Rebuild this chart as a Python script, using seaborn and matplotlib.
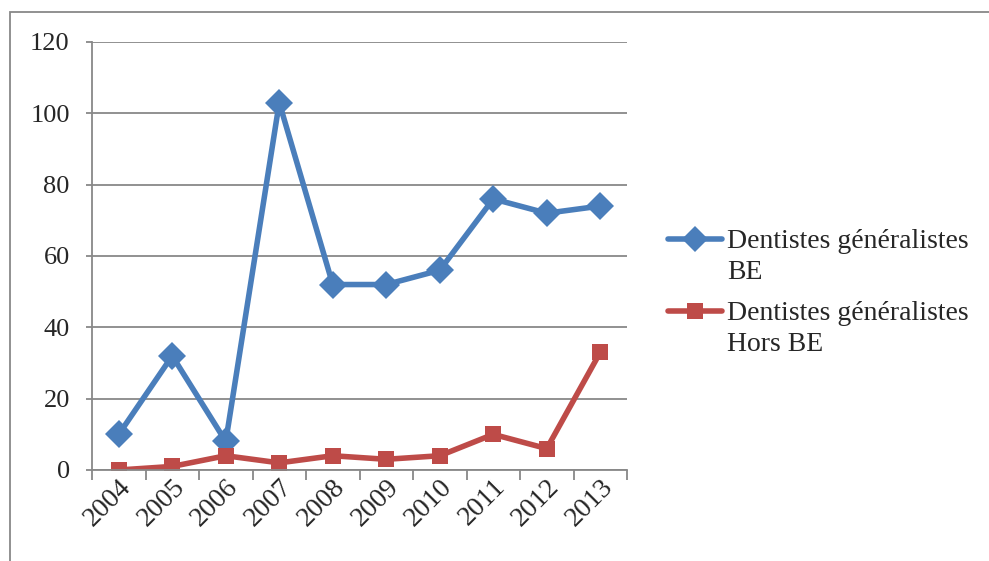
import numpy as np
import pandas as pd
import matplotlib
matplotlib.use("Agg")
import matplotlib.pyplot as plt
import seaborn as sns
from matplotlib.patches import Rectangle
from matplotlib.ticker import FixedLocator

years = ["2004", "2005", "2006", "2007", "2008", "2009", "2010", "2011", "2012", "2013"]
be = [10, 32, 8, 103, 52, 52, 56, 76, 72, 74]
hors_be = [0, 1, 4, 2, 4, 3, 4, 10, 6, 33]
series = ["Dentistes généralistes\nBE", "Dentistes généralistes\nHors BE"]
colors = ["#4A7EBB", "#BE4B48"]

df = pd.DataFrame({
    "annee": years * 2,
    "valeur": be + hors_be,
    "serie": [series[0]] * len(years) + [series[1]] * len(years),
})

sns.set_style("white")
plt.rcParams["font.family"] = ["Liberation Serif", "DejaVu Serif"]

fig = plt.figure(figsize=(9.89, 5.61), dpi=100)
ax = fig.add_axes([92 / 989, 1 - 470 / 561, (627 - 92) / 989, (470 - 42) / 561])

sns.lineplot(data=df, x="annee", y="valeur", hue="serie", style="serie",
             palette=colors, markers=["D", "s"], dashes=False,
             linewidth=4, markersize=12, markeredgewidth=0, ax=ax)
# bigger diamonds like the original
ax.lines[0].set_markersize(14)

ax.set_xlim(-0.5, len(years) - 0.5)
ax.set_ylim(0, 120)
ax.set_yticks(range(0, 121, 20))
ax.yaxis.grid(True, color="#888888", linewidth=1.3)
ax.set_axisbelow(True)
for s in ["top", "right"]:
    ax.spines[s].set_visible(False)
for s in ["left", "bottom"]:
    ax.spines[s].set_color("#888888")
    ax.spines[s].set_linewidth(1.3)
ax.set_xlabel("")
ax.set_ylabel("")

# tick marks between categories, labels at centres
ax.xaxis.set_minor_locator(FixedLocator(np.arange(-0.5, len(years), 1)))
ax.tick_params(axis="x", which="major", length=0, labelsize=20, pad=3)
ax.tick_params(axis="x", which="minor", length=7, color="#888888", width=1.3, direction="out", bottom=True)
ax.tick_params(axis="y", length=4, color="#888888", width=1.3, labelsize=19, pad=12, left=True)
for lab in ax.get_xticklabels():
    lab.set_rotation(45)
    lab.set_ha("right")
    lab.set_rotation_mode("anchor")

leg = ax.legend(loc="center left", bbox_to_anchor=(668 / 989, 1 - 293 / 561),
                bbox_transform=fig.transFigure, frameon=False, fontsize=20,
                handlelength=1.95, handletextpad=0.18, labelspacing=0.6,
                borderpad=0, borderaxespad=0)
for t in leg.get_texts():
    t.set_linespacing(1.3)
leg.legend_handles[0].set_markersize(13)
leg.legend_handles[1].set_markersize(11)
for h in leg.legend_handles:
    h.set_linewidth(4)
# handle next to the first line of each label, as in Excel
for col in leg._legend_handle_box.get_children():
    for row in col.get_children():
        row.align = "top"

fig.patches.append(Rectangle((10 / 989, -0.1), 1.2, 1 - 12 / 561 + 0.1,
                             transform=fig.transFigure, fill=False,
                             edgecolor="#888888", linewidth=1.3))

fig.savefig("out.png", dpi=100)
